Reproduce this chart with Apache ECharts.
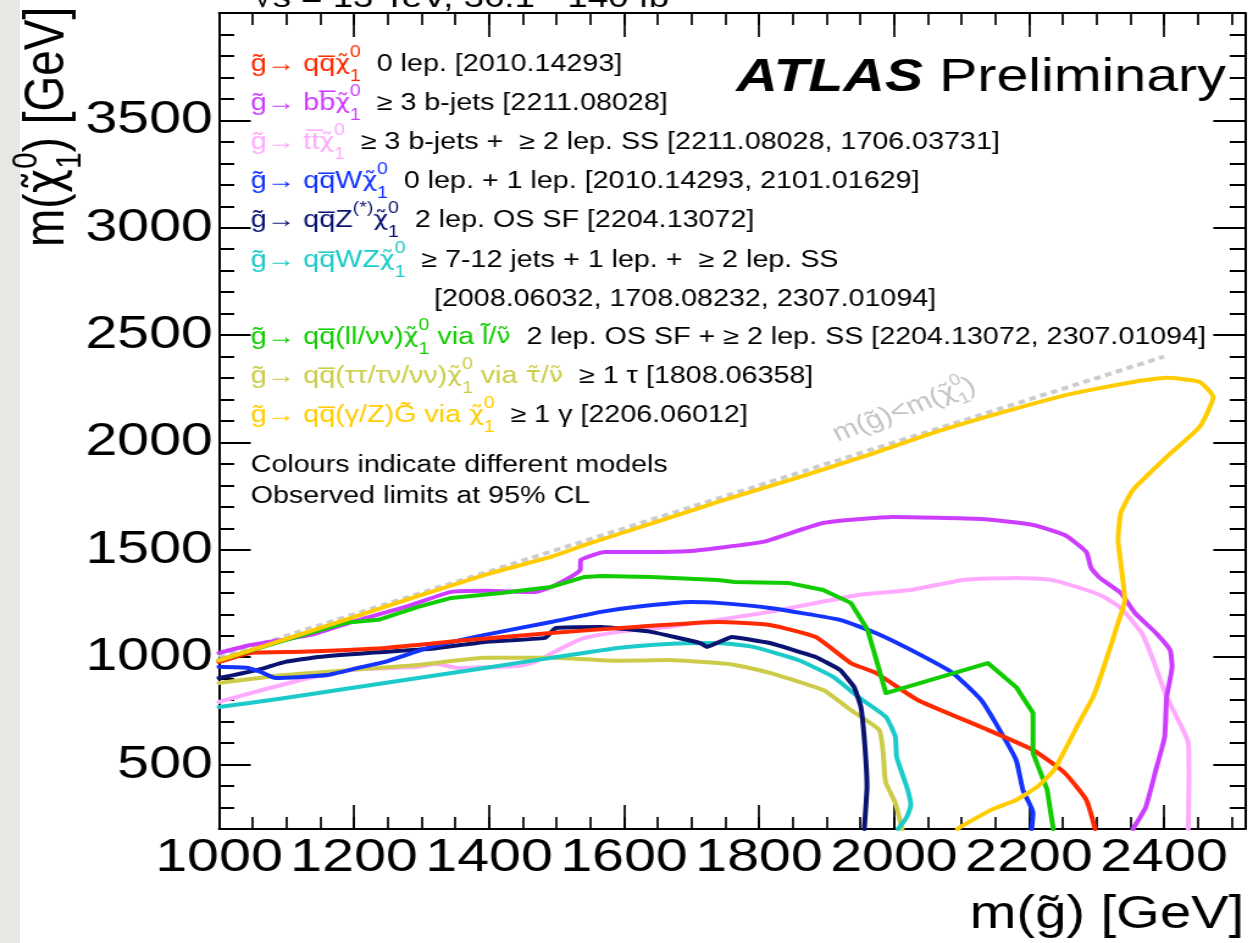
<!DOCTYPE html>
<html>
<head>
<meta charset="utf-8">
<script src="https://cdn.jsdelivr.net/npm/echarts@6/dist/echarts.min.js"></script>
<style>
  html, body { margin: 0; padding: 0; overflow: hidden; width: 1253px; height: 943px;
    background: linear-gradient(to right, #e9e7e4 0px, #e9e7e4 20px, #ffffff 20px); }
  /* the plot is laid out on a 1027px wide canvas and widened to the full 1253px page */
  #chart { width: 1027px; height: 943px; transform: scaleX(1.22006); transform-origin: 0 0; }
</style>
</head>
<body>
<div id="chart"></div>
<script>
const FONT = '"Liberation Sans", Arial, Helvetica, sans-serif';
const MARK_FONT = '"DejaVu Sans", sans-serif';   // Greek letters carrying a tilde

// ---- axis ticks ----
const xMajorTicks = [1000, 1200, 1400, 1600, 1800, 2000, 2200, 2400];
const yMajorTicks = [500, 1000, 1500, 2000, 2500, 3000, 3500];
const xMinorTicks = [];
for (let v = 1050; v <= 2500; v += 50) xMinorTicks.push(v);
const yMinorTicks = [];
for (let v = 300; v <= 3900; v += 100) yMinorTicks.push(v);

// ---- observed exclusion contours: [m(gluino), m(neutralino)] in GeV ----
const kinematicLimit = [[1000, 1000], [2400, 2400]];

const qqN1 = [[1000,978],[1047,1020],[1121,1025],[1246,1043],[1369,1080],[1492,1113],[1616,1141],
  [1739,1164],[1816,1150],[1884,1094],[1936,973],[1973,927],[2035,801],[2129,675],[2206,568],
  [2253,461],[2285,335],[2298,200]];

const bbN1 = [[1000,1020],[1047,1057],[1136,1104],[1196,1164],[1276,1234],[1344,1304],[1394,1309],
  [1468,1304],[1492,1327],[1521,1374],[1535,1406],[1536,1453],[1572,1490],[1640,1490],[1699,1495],
  [1739,1509],[1806,1537],[1895,1625],[1998,1653],[2129,1644],[2206,1616],[2253,1569],[2285,1490],
  [2292,1416],[2305,1369],[2336,1299],[2357,1206],[2388,1113],[2409,1034],[2412,955],[2404,815],
  [2401,629],[2388,475],[2373,302],[2354,200]];

const ttN1 = [[1000,792],[1047,833],[1121,894],[1196,941],[1295,955],[1320,969],[1354,950],
  [1443,959],[1468,978],[1517,1057],[1542,1090],[1591,1118],[1665,1141],[1739,1174],[1816,1211],
  [1947,1290],[2025,1313],[2102,1360],[2181,1369],[2233,1360],[2285,1313],[2311,1281],[2336,1229],
  [2367,1113],[2384,987],[2404,815],[2436,601],[2437,428],[2436,200]];

const qqWN1 = [[1000,955],[1043,950],[1062,931],[1084,903],[1161,917],[1206,950],[1246,978],
  [1314,1048],[1394,1104],[1492,1164],[1566,1211],[1616,1234],[1699,1257],[1739,1253],[1816,1229],
  [1920,1174],[1973,1113],[2025,1034],[2087,927],[2129,801],[2154,675],[2181,521],[2191,382],
  [2206,275],[2204,200]];

const qqZN1 = [[1000,903],[1058,941],[1098,978],[1147,1001],[1221,1020],[1314,1039],[1394,1071],
  [1483,1090],[1499,1136],[1566,1141],[1640,1118],[1713,1066],[1723,1048],[1760,1094],[1816,1066],
  [1884,1001],[1920,941],[1941,861],[1951,768],[1957,582],[1960,396],[1956,200]];

const qqWZN1 = [[1000,768],[1098,810],[1196,857],[1295,903],[1394,950],[1492,997],[1591,1043],
  [1665,1062],[1739,1066],[1791,1048],[1858,987],[1910,908],[1947,815],[1988,722],[2002,629],
  [2004,535],[2019,396],[2025,312],[2019,256],[2006,200]];

const qqSlepN1 = [[1000,987],[1098,1080],[1187,1160],[1236,1174],[1295,1234],[1344,1276],[1418,1299],
  [1492,1327],[1542,1374],[1566,1378],[1640,1374],[1739,1360],[1764,1350],[1843,1346],[1895,1313],
  [1936,1253],[1961,1127],[1988,833],[2139,973],[2181,861],[2206,740],[2206,554],[2227,382],[2236,200]];

const qqStauN1 = [[1000,880],[1098,917],[1196,941],[1295,964],[1394,997],[1492,997],[1591,983],
  [1665,987],[1739,973],[1764,964],[1816,927],[1895,847],[1936,754],[1978,661],[1984,554],
  [1986,461],[1988,414],[2002,321],[2012,200]];

const qqGravitino = [[1000,985],[1100,1085],[1196,1183],[1300,1290],[1403,1392],[1492,1467],
  [1542,1523],[1640,1622],[1739,1723],[1861,1840],[1960,1940],[2058,2045],[2160,2140],[2256,2222],
  [2354,2282],[2404,2301],[2453,2282],[2473,2212],[2453,2073],[2404,1933],[2354,1779],[2336,1672],
  [2332,1546],[2336,1439],[2342,1267],[2332,1160],[2311,955],[2295,815],[2274,694],[2237,475],
  [2212,396],[2181,335],[2144,289],[2098,209],[2094,200]];

// ---- model colours ----
const C = {
  red: '#ff2a00', violet: '#cc3dff', pink: '#ffaaff', blue: '#1433ff', navy: '#0a1470',
  cyan: '#1ccaca', green: '#11cc00', olive: '#cccc4a', gold: '#ffcc00', grey: '#cccccc'
};

function contour(name, data, color, smooth) {
  return {
    type: 'line', name, data, xAxisIndex: 0, yAxisIndex: 0,
    showSymbol: false, symbol: 'none', smooth: smooth, clip: true,
    lineStyle: { color, width: 4, cap: 'round', join: 'round' },
    emphasis: { disabled: true }
  };
}

const plainNumber = (v) => String(Math.round(v));

function xAxisDef(position, ticks, tickLen, labels, line) {
  return {
    type: 'value', position, min: 1000, max: 2520,
    axisLine: { show: line, onZero: false, lineStyle: { color: '#000', width: 1.8 } },
    axisTick: { show: true, inside: true, length: tickLen, customValues: ticks,
      lineStyle: { color: '#000', width: 1.7 } },
    axisLabel: labels
      ? { show: true, customValues: xMajorTicks, formatter: plainNumber, hideOverlap: false,
          showMinLabel: true, showMaxLabel: true,
          margin: 6, fontSize: 47, fontFamily: FONT, color: '#000' }
      : { show: false },
    splitLine: { show: false }
  };
}
function yAxisDef(position, ticks, tickLen, labels, line) {
  return {
    type: 'value', position, min: 200, max: 4000,
    axisLine: { show: line, onZero: false, lineStyle: { color: '#000', width: 2 } },
    axisTick: { show: true, inside: true, length: tickLen, customValues: ticks,
      lineStyle: { color: '#000', width: 2 } },
    axisLabel: labels
      ? { show: true, customValues: yMajorTicks, formatter: plainNumber, hideOverlap: false,
          showMinLabel: true, showMaxLabel: true,
          margin: 5, fontSize: 47, fontFamily: FONT, color: '#000' }
      : { show: false },
    splitLine: { show: false }
  };
}

// ---- legend text (coloured decay + black analysis reference) ----
const LS = 23.5;
function richFor(color) {
  return {
    f: { fill: color, fontSize: LS, fontFamily: FONT, lineHeight: 40 },
    x: { fill: color, fontSize: 21, fontFamily: MARK_FONT, lineHeight: 40 },
    u: { fill: color, fontSize: 16, fontFamily: FONT, lineHeight: 18, verticalAlign: 'top', width: 0.001 },
    d: { fill: color, fontSize: 16, fontFamily: FONT, lineHeight: 18, verticalAlign: 'bottom' },
    s: { fill: color, fontSize: 16, fontFamily: FONT, lineHeight: 18, verticalAlign: 'top' },
    g: { fill: color, fontSize: LS, fontFamily: FONT, lineHeight: 40, width: 13 },
    k: { fill: '#000', fontSize: LS, fontFamily: FONT, lineHeight: 40 }
  };
}
function textItem(x, y, text, color, opts) {
  const o = opts || {};
  return {
    type: 'text', x, y, rotation: o.rotation || 0, silent: true, z: 100,
    style: {
      text, rich: o.rich || richFor(color), fill: color, fontSize: o.fontSize || LS, fontFamily: FONT,
      fontWeight: o.fontWeight || 'normal', fontStyle: o.fontStyle || 'normal',
      align: o.align || 'left', verticalAlign: o.verticalAlign || 'middle',
      textAlign: o.align || 'left', textVerticalAlign: o.verticalAlign || 'middle'
    }
  };
}

const G = 'g\u0303', CHI = '\u03c7\u0303', QQ = 'qq\u0305', NU = '\u03bd\u0303', TAU = '\u03c4\u0303';
const N1 = `{x|${CHI}}{u|0}{d|1}`;
const legendRows = [
  [C.red,    `{f|${G}\u2192 ${QQ}}${N1}{g| }{k|0 lep. [2010.14293]}`],
  [C.violet, `{f|${G}\u2192 bb\u0305}${N1}{g| }{k|\u2265 3 b-jets [2211.08028]}`],
  [C.pink,   `{f|${G}\u2192 tt\u0305}${N1}{g| }{k|\u2265 3 b-jets +  \u2265 2 lep. SS [2211.08028, 1706.03731]}`],
  [C.blue,   `{f|${G}\u2192 ${QQ}W}${N1}{g| }{k|0 lep. + 1 lep. [2010.14293, 2101.01629]}`],
  [C.navy,   `{f|${G}\u2192 ${QQ}Z}{s|(*)}${N1}{g| }{k|2 lep. OS SF [2204.13072]}`],
  [C.cyan,   `{f|${G}\u2192 ${QQ}WZ}${N1}{g| }{k|\u2265 7-12 jets + 1 lep. +  \u2265 2 lep. SS}`],
  ['#000',   `{k|[2008.06032, 1708.08232, 2307.01094]}`],
  [C.green,  `{f|${G}\u2192 ${QQ}(ll/\u03bd\u03bd)}${N1}{f| via l\u0303/}{x|${NU}}{g| }{k|2 lep. OS SF + \u2265 2 lep. SS [2204.13072, 2307.01094]}`],
  [C.olive,  `{f|${G}\u2192 ${QQ}(\u03c4\u03c4/\u03c4\u03bd/\u03bd\u03bd)}${N1}{f| via }{x|${TAU}}{f|/}{x|${NU}}{g| }{k|\u2265 1 \u03c4 [1808.06358]}`],
  [C.gold,   `{f|${G}\u2192 ${QQ}(\u03b3/Z)G\u0303 via }${N1}{g| }{k|\u2265 1 \u03b3 [2206.06012]}`]
];
const legendY = [65, 104, 143, 182, 221, 261, 300, 338, 377, 416];

const graphics = [];
legendRows.forEach(([color, text], i) => {
  const x = (i === 6) ? 355.7 : 205.5;
  graphics.push(textItem(x, legendY[i], text, color));
});
graphics.push(textItem(205.5, 466, '{k|Colours indicate different models}', '#000'));
graphics.push(textItem(205.5, 497, '{k|Observed limits at 95% CL}', '#000'));

// ATLAS label
graphics.push(textItem(756.6, 78, 'ATLAS', '#000', { rich: {}, fontSize: 47, fontWeight: 'bold', fontStyle: 'italic', align: 'right' }));
graphics.push(textItem(769.7, 78, 'Preliminary', '#000', { rich: {}, fontSize: 47 }));

// centre-of-mass energy line above the frame
graphics.push(textItem(207, 14, '\u221as = 13 TeV, 36.1 - 140 fb\u207b\u00b9', '#000', { rich: {}, fontSize: 30, verticalAlign: 'bottom' }));

// axis titles
graphics.push(textItem(1019.7, 915, 'm(' + G + ') [GeV]', '#000', { rich: {}, fontSize: 46, align: 'right' }));
graphics.push(textItem(39.5, 247, `{m|m(}{x|${CHI}}{u|0}{d|1}{m|) [GeV]}`, '#000', {
  rotation: Math.PI / 2,
  rich: {
    m: { fill: '#000', fontSize: 46, fontFamily: FONT, lineHeight: 66 },
    x: { fill: '#000', fontSize: 42, fontFamily: MARK_FONT, lineHeight: 66 },
    u: { fill: '#000', fontSize: 30, fontFamily: FONT, lineHeight: 30, verticalAlign: 'top', width: 0.001 },
    d: { fill: '#000', fontSize: 30, fontFamily: FONT, lineHeight: 30, verticalAlign: 'bottom' }
  }
}));

// kinematic limit label
graphics.push(textItem(691, 452, `{m|m(${G})<m(}{x|${CHI}}{u|0}{d|1}{m|)}`, C.grey, {
  rotation: 24 * Math.PI / 180, verticalAlign: 'bottom',
  rich: {
    m: { fill: '#c4c4c4', fontSize: 25, fontFamily: FONT, lineHeight: 36 },
    x: { fill: '#c4c4c4', fontSize: 23, fontFamily: MARK_FONT, lineHeight: 36 },
    u: { fill: '#c4c4c4', fontSize: 16, fontFamily: FONT, lineHeight: 16, verticalAlign: 'top', width: 0.001 },
    d: { fill: '#c4c4c4', fontSize: 16, fontFamily: FONT, lineHeight: 16, verticalAlign: 'bottom' }
  }
}));

const chart = echarts.init(document.getElementById('chart'), null, { renderer: 'canvas' });
chart.setOption({
  animation: false,
  backgroundColor: 'transparent',
  textStyle: { fontFamily: FONT },
  grid: { left: 179.5, right: 6.6, top: 13, bottom: 114, containLabel: false, outerBoundsMode: 'none' },
  xAxis: [
    xAxisDef('bottom', xMajorTicks, 24, true, true),
    xAxisDef('bottom', xMinorTicks, 12, false, false),
    xAxisDef('top', xMajorTicks, 24, false, true),
    xAxisDef('top', xMinorTicks, 12, false, false)
  ],
  yAxis: [
    yAxisDef('left', yMajorTicks, 26, true, true),
    yAxisDef('left', yMinorTicks, 12.5, false, false),
    yAxisDef('right', yMajorTicks, 26, false, true),
    yAxisDef('right', yMinorTicks, 12.5, false, false)
  ],
  series: [
    {
      type: 'line', name: 'kinematic limit', data: kinematicLimit, showSymbol: false, symbol: 'none',
      lineStyle: { color: C.grey, width: 4, type: [5.5, 4] }, emphasis: { disabled: true }
    },
    contour('ttN1', ttN1, C.pink, 0.15),
    contour('bbN1', bbN1, C.violet, 0.15),
    contour('qqStauN1', qqStauN1, C.olive, 0.15),
    contour('qqWZN1', qqWZN1, C.cyan, 0.15),
    contour('qqZN1', qqZN1, C.navy, 0.1),
    contour('qqWN1', qqWN1, C.blue, 0.15),
    contour('qqN1', qqN1, C.red, 0.15),
    contour('qqSlepN1', qqSlepN1, C.green, false),
    contour('qqGravitino', qqGravitino, C.gold, 0.15)
  ],
  graphic: graphics
});
</script>
</body>
</html>
